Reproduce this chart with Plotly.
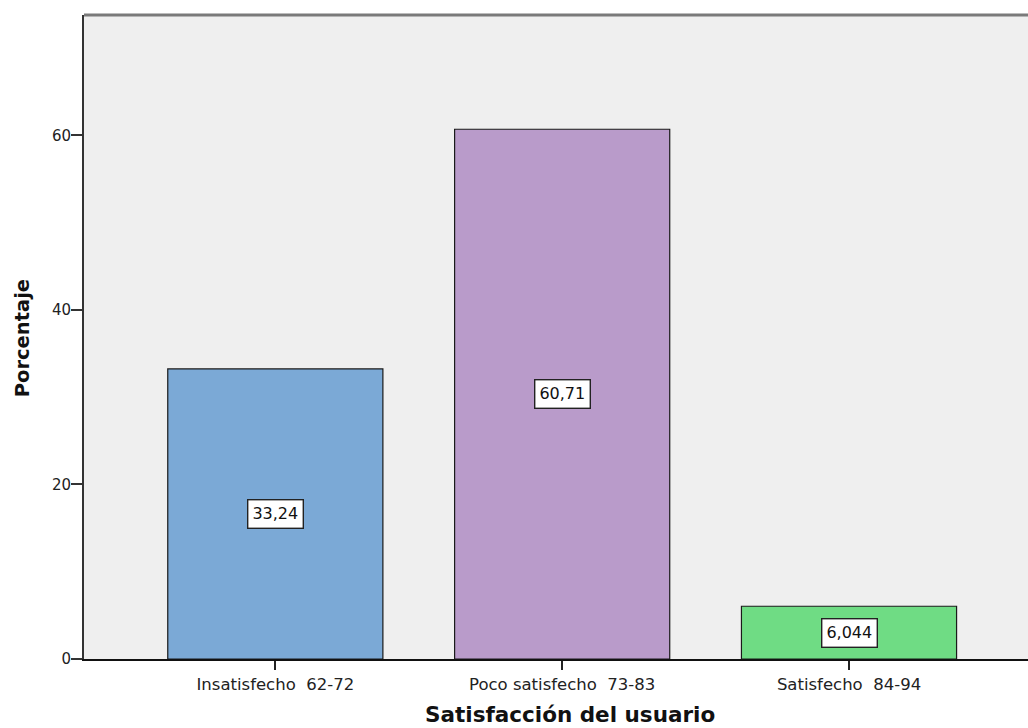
import plotly.graph_objects as go

# Satisfaction groups and their share of respondents (%)
categories = ["Insatisfecho  62-72", "Poco satisfecho  73-83", "Satisfecho  84-94"]
percentages = [33.24, 60.71, 6.044]
value_labels = ["33,24", "60,71", "6,044"]
bar_colors = ["#7BA9D6", "#B99BCA", "#6FDC84"]

FONT = "DejaVu Sans, Liberation Sans, Arial, sans-serif"

fig = go.Figure()
fig.add_trace(go.Bar(
    x=list(range(len(categories))),
    y=percentages,
    width=0.75,
    marker=dict(color=bar_colors, line=dict(color="#1a1a1a", width=1.2)),
    hoverinfo="skip",
))

# value labels boxed in the middle of each bar
for i, (v, lab) in enumerate(zip(percentages, value_labels)):
    fig.add_annotation(
        x=i, y=v / 2, text=lab, showarrow=False,
        font=dict(family=FONT, size=16, color="#111"),
        bgcolor="white", bordercolor="#222", borderwidth=1.4, borderpad=4,
    )

# axis titles
fig.add_annotation(
    x=0.515, xref="paper", y=-0.086, yref="paper", yanchor="middle",
    text="<b>Satisfacción del usuario</b>", showarrow=False,
    font=dict(family=FONT, size=21.5, color="#111"),
)
fig.add_annotation(
    x=-0.0657, xref="paper", y=0.498, yref="paper", xanchor="center", yanchor="middle",
    text="<b>Porcentaje</b>", showarrow=False, textangle=-90,
    font=dict(family=FONT, size=19.5, color="#111"),
)

# top frame line
fig.add_shape(type="line", xref="paper", yref="paper", x0=0, x1=1, y0=1, y1=1,
              line=dict(color="#7a7a7a", width=3))

fig.update_layout(
    width=1028, height=728,
    margin=dict(l=84, r=0, t=15, b=69),
    paper_bgcolor="white",
    plot_bgcolor="#EFEFEF",
    showlegend=False,
    font=dict(family=FONT, size=15, color="#222"),
    xaxis=dict(
        range=[-0.667, 2.624],
        tickmode="array", tickvals=list(range(len(categories))), ticktext=categories,
        showgrid=False, zeroline=False,
        showline=True, linecolor="#111", linewidth=1.5,
        ticks="outside", ticklen=9, tickcolor="#222", tickwidth=1.5,
        tickfont=dict(family=FONT, size=16.5, color="#222"),
    ),
    yaxis=dict(
        range=[0, 73.8],
        tickvals=[0, 20, 40, 60],
        showgrid=False, zeroline=False,
        showline=True, linecolor="#333", linewidth=2,
        ticks="outside", ticklen=11, tickcolor="#333", tickwidth=1.5,
        ticklabelstandoff=-3,
        tickfont=dict(family=FONT, size=15, color="#222"),
    ),
)

fig.write_html("out.html")
